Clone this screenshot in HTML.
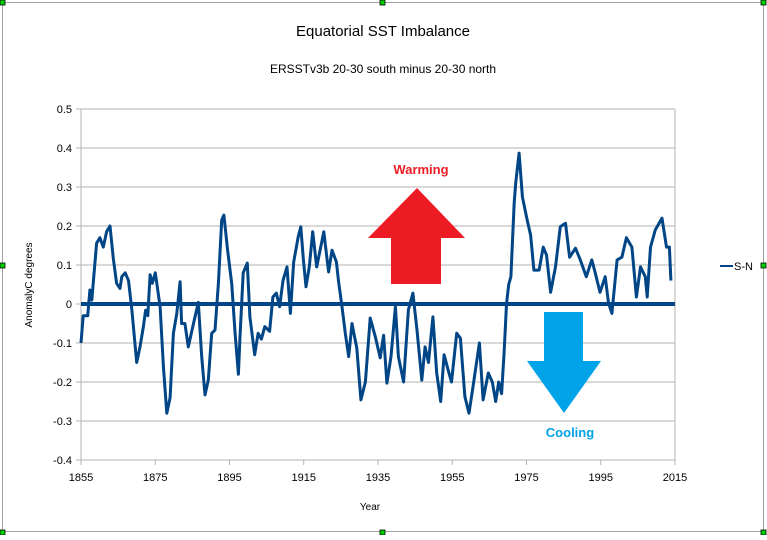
<!DOCTYPE html>
<html><head><meta charset="utf-8"><style>
body{margin:0;background:#fff;}
svg text{font-family:"Liberation Sans",sans-serif;}
</style></head><body>
<svg width="767" height="535" viewBox="0 0 767 535" xmlns="http://www.w3.org/2000/svg">
<rect x="2.5" y="2.5" width="761" height="529" fill="#fff" stroke="#a0a0a0"/>
<g fill="#00d000" stroke="#000" stroke-width="0.8">
<rect x="0" y="0" width="5" height="5"/><rect x="380" y="0" width="5" height="5"/><rect x="761" y="0" width="5" height="5"/>
<rect x="0" y="263" width="5" height="5"/><rect x="761" y="263" width="5" height="5"/>
<rect x="0" y="530" width="5" height="5"/><rect x="380" y="530" width="5" height="5"/><rect x="761" y="530" width="5" height="5"/>
</g>
<text x="383" y="36" font-size="15" text-anchor="middle" fill="#000">Equatorial SST Imbalance</text>
<text x="383" y="73" font-size="12" text-anchor="middle" fill="#000">ERSSTv3b 20-30 south minus 20-30 north</text>
<g id="grid"></g>
<g id="yticks"></g>
<g id="xticks"></g>
<text x="0" y="0" font-size="10" text-anchor="middle" transform="translate(32,285) rotate(-90)">AnomalyC degrees</text>
<text x="370" y="510" font-size="10" text-anchor="middle">Year</text>
<polygon points="417,188 465,238 441,238 441,284 391,284 391,238 368,238" fill="#ed1c24"/>
<text x="421" y="174" font-size="13" font-weight="bold" fill="#ed1c24" text-anchor="middle">Warming</text>
<polygon points="544,312 583,312 583,361 601,361 564,413 527,361 544,361" fill="#00a2e8"/>
<text x="570" y="437" font-size="13" font-weight="bold" fill="#00a2e8" text-anchor="middle">Cooling</text>
<line x1="81" y1="304" x2="675" y2="304" stroke="#004586" stroke-width="4"/>
<path id="series" fill="none" stroke="#004586" stroke-width="3" stroke-linejoin="round"/>
<line x1="720" y1="266" x2="733" y2="266" stroke="#004586" stroke-width="2"/>
<text x="734" y="270" font-size="11">S-N</text>
</svg>
<script>
const years=[1855,1855.6,1856.8,1857.4,1857.9,1859.2,1860.1,1861,1861.9,1862.8,1863.7,1864.6,1865.5,1866,1866.9,1867.8,1868.7,1870,1870.9,1871.8,1872.4,1873,1873.6,1874.2,1875,1876.3,1877.2,1878.1,1879,1879.9,1880.8,1881.7,1882.1,1883,1883.9,1885.3,1886.6,1887.5,1888.4,1889.3,1890.2,1891.1,1892,1892.9,1893.5,1894.5,1895.6,1896.5,1897.4,1897.8,1898.7,1899.8,1900.5,1901.8,1902.7,1903.6,1904.5,1905.8,1906.7,1907.6,1908.5,1909.4,1910.5,1911.4,1912.3,1913.5,1914.2,1914.9,1915.6,1916.5,1917.4,1918.5,1919.4,1920.4,1921.7,1922.6,1923.8,1924.4,1925.3,1926.2,1927.1,1928,1929.3,1930.4,1931.6,1932.9,1934.3,1935.6,1936.5,1937.4,1938.5,1939.7,1940.5,1941.9,1943.2,1944.4,1945.5,1946.8,1947.7,1948.6,1949.8,1950.8,1951.9,1952.8,1953.9,1954.8,1956.2,1957.2,1958.4,1959.5,1960.6,1962.3,1963.3,1964.7,1965.8,1966.7,1967.5,1968.3,1969,1969.6,1970.2,1970.8,1971.7,1972.1,1973,1973.9,1975.2,1976.1,1977,1978.4,1979.5,1980.4,1981.5,1982.8,1984.1,1985.5,1986.6,1988.2,1989.5,1991.1,1992.6,1993.5,1994.8,1996.2,1997.1,1998,1999.4,2000.7,2001.9,2003.4,2004.6,2005.7,2007,2007.5,2008.4,2009.7,2011.5,2012.7,2013.5,2013.9];
const values=[-0.10,-0.03,-0.03,0.036,0.01,0.156,0.17,0.146,0.185,0.20,0.117,0.053,0.04,0.07,0.08,0.06,-0.016,-0.15,-0.11,-0.058,-0.016,-0.03,0.075,0.053,0.08,-0.007,-0.16,-0.28,-0.24,-0.075,-0.024,0.057,-0.05,-0.05,-0.11,-0.05,0.004,-0.135,-0.233,-0.195,-0.075,-0.067,0.053,0.215,0.228,0.138,0.053,-0.075,-0.18,-0.09,0.08,0.105,-0.033,-0.13,-0.075,-0.09,-0.058,-0.07,0.018,0.028,-0.007,0.06,0.095,-0.024,0.108,0.172,0.198,0.113,0.044,0.095,0.185,0.095,0.138,0.185,0.082,0.138,0.108,0.057,-0.007,-0.075,-0.135,-0.05,-0.113,-0.246,-0.2,-0.036,-0.085,-0.138,-0.08,-0.203,-0.135,-0.007,-0.135,-0.2,-0.015,0.028,-0.067,-0.195,-0.11,-0.15,-0.033,-0.177,-0.25,-0.13,-0.17,-0.2,-0.075,-0.088,-0.238,-0.28,-0.212,-0.1,-0.246,-0.177,-0.2,-0.25,-0.2,-0.23,-0.12,0.0,0.05,0.07,0.26,0.31,0.387,0.275,0.215,0.177,0.087,0.087,0.146,0.126,0.03,0.095,0.198,0.207,0.12,0.143,0.113,0.07,0.113,0.08,0.03,0.07,0.003,-0.024,0.113,0.12,0.17,0.146,0.018,0.095,0.07,0.018,0.146,0.19,0.22,0.146,0.146,0.06];
const yTicks=[0.5,0.4,0.3,0.2,0.1,0,-0.1,-0.2,-0.3,-0.4];
const xTicks=[1855,1875,1895,1915,1935,1955,1975,1995,2015];
const X0=81,X1=675,Y0=304,PY=390;
function xs(y){return X0+(y-1855)/(2015-1855)*(X1-X0);}
function ys(v){return Y0-v*PY;}
const NS='http://www.w3.org/2000/svg';
const grid=document.getElementById('grid'),yt=document.getElementById('yticks'),xt=document.getElementById('xticks');
function mk(tag,attrs,parent){const e=document.createElementNS(NS,tag);for(const k in attrs)e.setAttribute(k,attrs[k]);parent.appendChild(e);return e;}
yTicks.forEach(v=>{
  const g=mk('line',{x1:X0-5,x2:X1,y1:ys(v),y2:ys(v),stroke:'#b3b3b3','stroke-width':1},grid);
  
  
  const t=mk('text',{x:72,y:ys(v)+4,'font-size':11,'text-anchor':'end'},yt);
  
  
  t.textContent=String(v);
});
xTicks.forEach(v=>{
  const l=mk('line',{x1:xs(v),x2:xs(v),y1:ys(-0.4),y2:ys(-0.4)+5,stroke:'#b3b3b3','stroke-width':1},xt);
  
  
  const t=mk('text',{x:xs(v),y:481,'font-size':11,'text-anchor':'middle'},xt);
  
  
  t.textContent=String(v);
});
const ax=mk('line',{x1:X0,x2:X0,y1:ys(0.5),y2:ys(-0.4),stroke:'#b3b3b3'},xt);


const ax2=mk('line',{x1:X1,x2:X1,y1:ys(0.5),y2:ys(-0.4),stroke:'#b3b3b3'},xt);


document.getElementById('series').setAttribute('d',years.map((y,i)=>(i?'L':'M')+xs(y).toFixed(1)+','+ys(values[i]).toFixed(1)).join(''));
</script>
</body></html>
